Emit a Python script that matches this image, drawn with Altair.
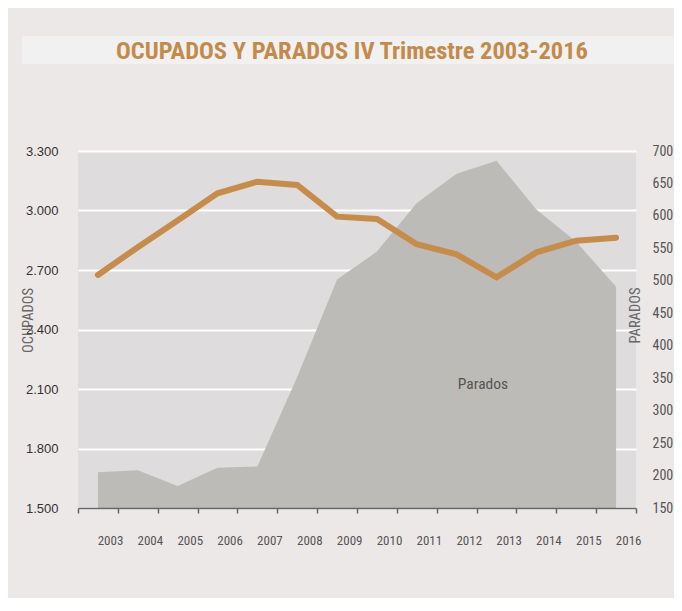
import altair as alt
import pandas as pd

# ---- data ----
years = [2003, 2004, 2005, 2006, 2007, 2008, 2009, 2010, 2011, 2012, 2013, 2014, 2015, 2016]
ocupados = [2675, 2815, 2950, 3087, 3145, 3129, 2969, 2957, 2830, 2779, 2663, 2789, 2848, 2863]
parados = [205, 208, 184, 212, 214, 352, 502, 545, 620, 665, 685, 610, 560, 491]

title_text = ["OCUPADOS Y PARADOS IV Trimestre 2003-2016"]
annot_text = ["Parados"]
annot_year = [2012.66]
annot_value = [341]

y_left_ticks = [1500, 1800, 2100, 2400, 2700, 3000, 3300]
y_right_ticks = [150, 200, 250, 300, 350, 400, 450, 500, 550, 600, 650, 700]
x_band_edges = [2002.5, 2003.5, 2004.5, 2005.5, 2006.5, 2007.5, 2008.5, 2009.5,
                2010.5, 2011.5, 2012.5, 2013.5, 2014.5, 2015.5, 2016.5]

df = pd.DataFrame({"year": years, "ocupados": ocupados, "parados": parados})
df_annot = pd.DataFrame({"t": annot_text, "year": annot_year, "v": annot_value})
df_title = pd.DataFrame({"t": title_text})
df_band = pd.DataFrame({"k": [0]})

W, H = 558, 357
COND = "Roboto Condensed"
REG = "Liberation Sans"

xscale = alt.Scale(domain=[2002.5, 2016.5], nice=False, zero=False)
xaxis = alt.Axis(
    values=x_band_edges,
    labelExpr="datum.value < 2016 ? format(datum.value + 0.5, 'd') : ''",
    labelOffset=32, labelPadding=27, labelBaseline="middle",
    labelFlush=False, labelOverlap=False,
    tickSize=5, tickColor="#666", tickWidth=1.5,
    domainColor="#666", domainWidth=1.5,
    grid=False, title=None,
    labelFont=COND, labelFontSize=13, labelColor="#555", zindex=1,
)

right_scale = alt.Scale(domain=[150, 700], nice=False, zero=False)
left_scale = alt.Scale(domain=[1500, 3300], nice=False, zero=False)

band = alt.Chart(df_band).mark_rect(color="#F1F1F1").encode(
    x=alt.value(-56), x2=alt.value(604), y=alt.value(-115), y2=alt.value(-87)
)

area = alt.Chart(df).mark_area(color="#BDBBB7", opacity=1).encode(
    x=alt.X("year:Q", scale=xscale, axis=xaxis),
    y=alt.Y(
        "parados:Q", scale=right_scale,
        axis=alt.Axis(
            orient="right", values=y_right_ticks, grid=False, ticks=False, domain=False,
            labelPadding=16, labelFont=COND, labelFontSize=14, labelColor="#555",
            title="PARADOS", titleFont=COND, titleFontSize=14.5, titleFontWeight="normal",
            titleColor="#666", titleAngle=270, titleX=-1, titleY=164,
            titleAlign="center", titleBaseline="middle",
        ),
    ),
    y2=alt.datum(150),
)

line = alt.Chart(df).mark_line(color="#C68C4B", strokeWidth=6, strokeCap="round").encode(
    x=alt.X("year:Q", scale=xscale, axis=xaxis),
    y=alt.Y(
        "ocupados:Q", scale=left_scale,
        axis=alt.Axis(
            orient="left", values=y_left_ticks,
            labelExpr="replace(format(datum.value, ',d'), ',', '.')",
            grid=True, gridColor="white", gridWidth=2, ticks=False, domain=False,
            labelPadding=20, labelFont=REG, labelFontSize=13, labelColor="#333",
            title="OCUPADOS", titleFont=COND, titleFontSize=14.5, titleFontWeight="normal",
            titleColor="#666", titleAngle=270, titleX=-50, titleY=169,
            titleAlign="center", titleBaseline="middle",
        ),
    ),
)

annot = alt.Chart(df_annot).mark_text(
    font=COND, fontSize=15.5, color="#555", align="center", baseline="middle"
).encode(
    x=alt.X("year:Q", scale=xscale, axis=xaxis),
    y=alt.Y("v:Q", scale=right_scale, axis=None),
    text="t:N",
)

title = alt.Chart(df_title).mark_text(
    font=COND, fontWeight="bold", fontSize=24.5, color="#C48A4B",
    align="center", baseline="alphabetic",
).encode(text="t:N", x=alt.value(274), y=alt.value(-92))

chart = (
    alt.layer(band, area, line, annot, title)
    .resolve_scale(y="independent")
    .properties(
        width=W, height=H,
        autosize=alt.AutoSizeParams(type="none"),
        padding={"left": 70, "top": 143, "right": 38, "bottom": 90},
        background="#EDE8E8",
    )
    .configure_view(fill="#DEDCDD", stroke=None)
)

chart.save("out.html", embed_options={"renderer": "svg", "actions": False})
